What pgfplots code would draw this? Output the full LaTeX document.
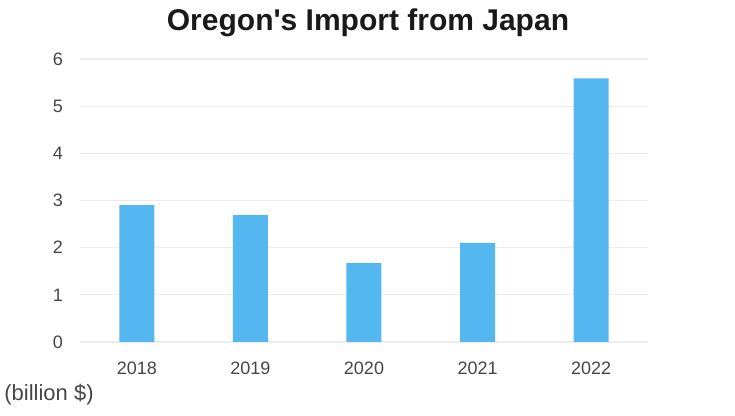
\documentclass[border=0pt]{standalone}
\usepackage{pgfplots}
\pgfplotsset{compat=1.18}
\usepackage{fontspec}
\setmainfont{Liberation Sans}[Ligatures=TeXOff]
\definecolor{barblue}{RGB}{85,183,240}
\definecolor{gridgray}{RGB}{236,236,236}
\definecolor{labgray}{RGB}{70,70,70}
\begin{document}
\begin{tikzpicture}[x=0.5pt,y=0.5pt]
\path[use as bounding box] (0,0) rectangle (735,416);
\begin{axis}[
    at={(80*0.5pt,74*0.5pt)}, anchor=south west,
    scale only axis, width=284pt, height=141.5pt,
    xmin=-0.5, xmax=4.5, ymin=0, ymax=6,
    ybar, bar width=17.5pt,
    axis line style={draw=none},
    major tick style={draw=none},
    ymajorgrids, grid style={gridgray, line width=0.6pt},
    xtick=data, xticklabels={2018,2019,2020,2021,2022},
    ytick={0,1,...,6},
    /pgf/number format/assume math mode=true,
    ticklabel style={font=\fontsize{9}{11}\selectfont, text=labgray},
    yticklabel style={xshift=-5pt},
    xticklabel style={yshift=-2pt},
]
\addplot[fill=barblue, draw=none] coordinates {(0,2.90) (1,2.69) (2,1.67) (3,2.10) (4,5.59)};
\end{axis}
\node[font=\bfseries\fontsize{15}{18}\selectfont, text=black!90] at (368,393) {Oregon's Import from Japan};
\node[font=\fontsize{11}{13}\selectfont, text=labgray, anchor=west, inner sep=0pt] at (4,21) {(billion \$)};
\end{tikzpicture}
\end{document}
